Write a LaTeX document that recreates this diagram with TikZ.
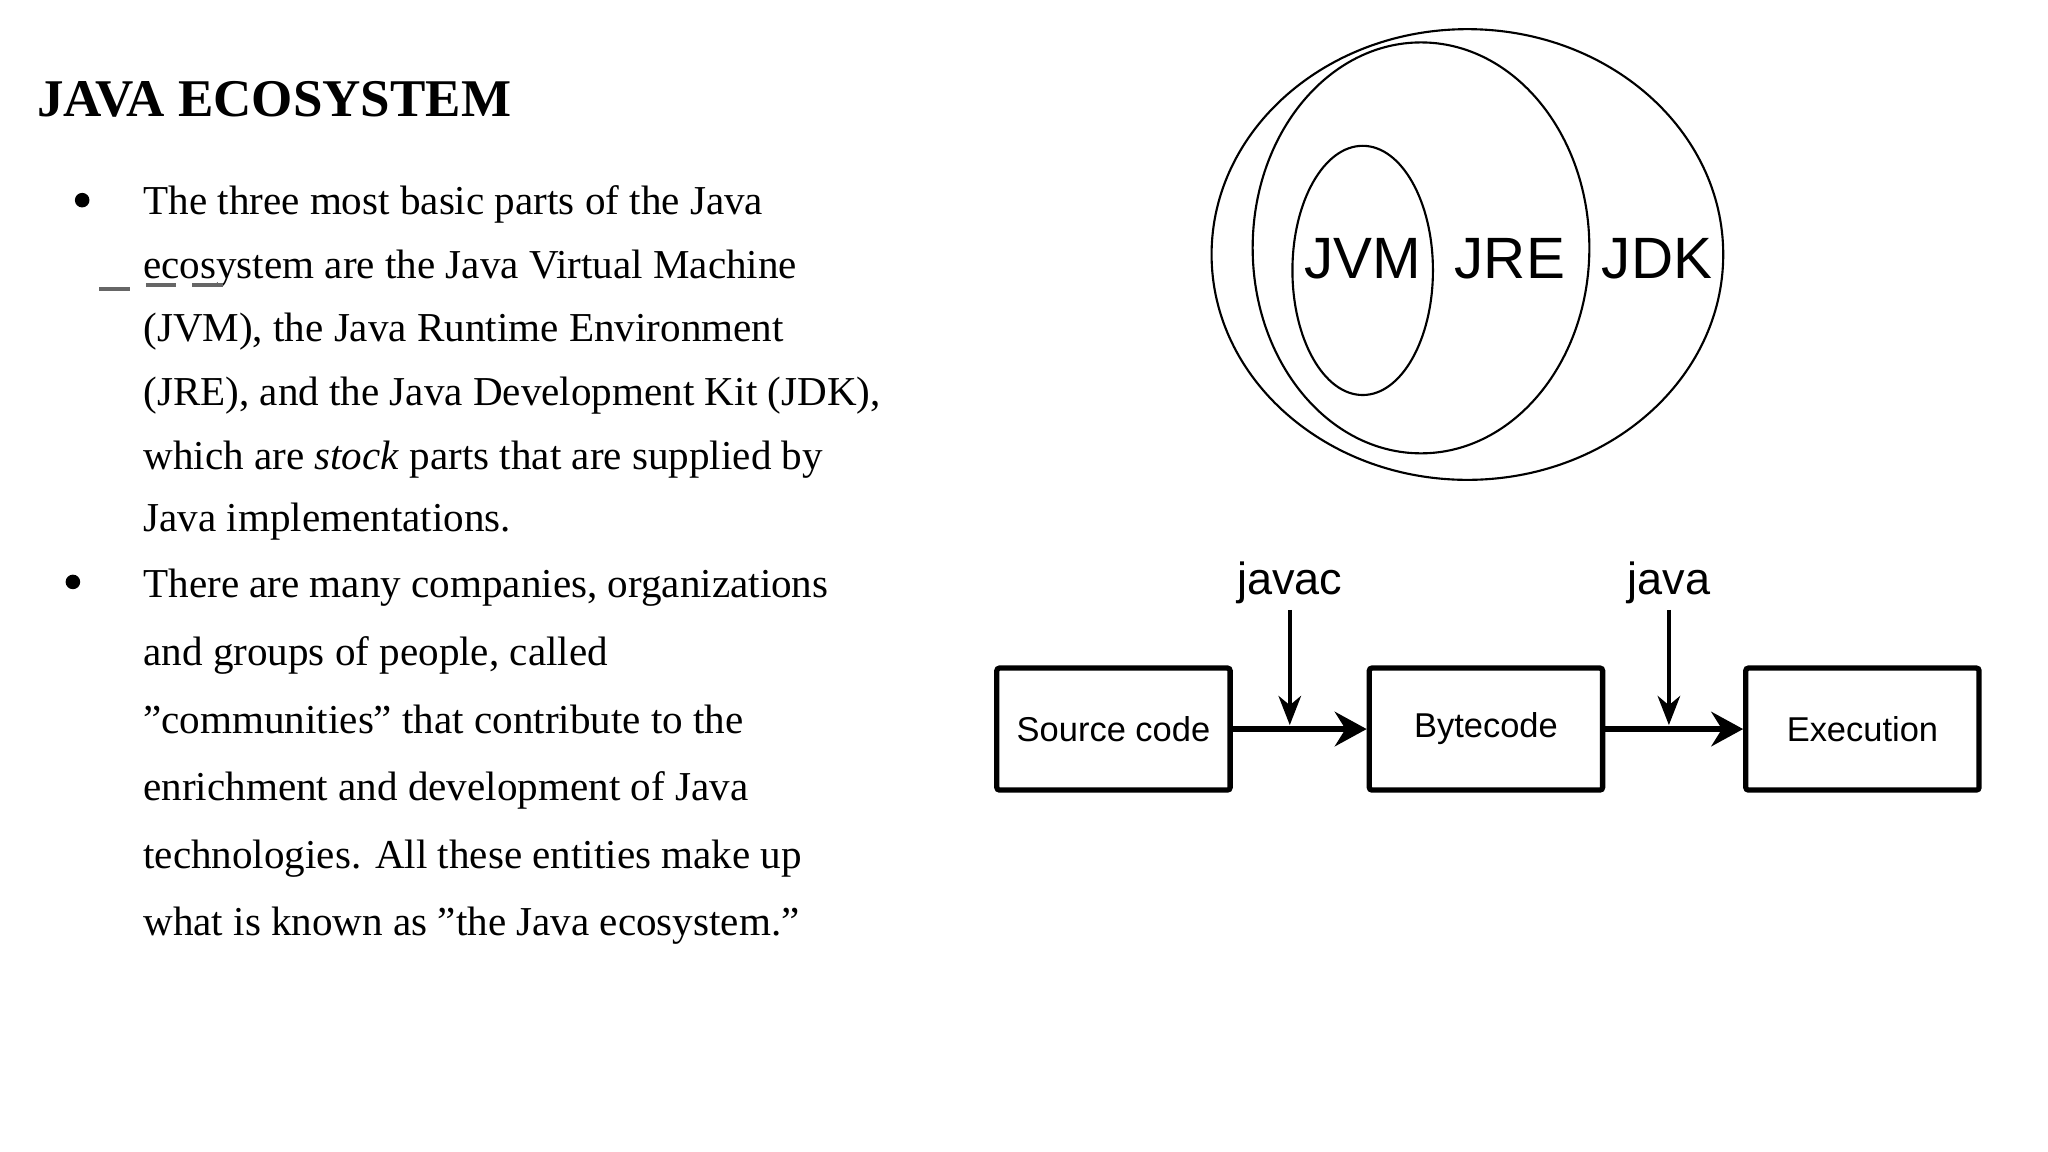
\documentclass[tikz,border=0pt]{standalone}
\usepackage{fontspec}
\setmainfont{Liberation Serif}
\newfontfamily\diagfont{Liberation Sans}
\usetikzlibrary{arrows.meta}
\begin{document}
\begin{tikzpicture}[x=1pt,y=-1pt,
  body/.style={anchor=base west,inner sep=0pt,font=\fontsize{31}{31}\selectfont},
  bul/.style={circle,fill=black,inner sep=0pt,minimum size=11pt},
  ell/.style={draw,line width=1.6pt},
  elabel/.style={font=\diagfont\fontsize{44}{44}\selectfont},
  procbox/.style={draw,line width=4pt,rounded corners=2pt,minimum width=176pt,minimum height=92pt,font=\diagfont\fontsize{26}{26}\selectfont},
  flow/.style={line width=4.5pt,-{Stealth[length=24pt,width=26pt,inset=8pt]}},
  cmd/.style={line width=3pt,-{Stealth[length=22pt,width=17pt,inset=7pt]}},
  cmdlabel/.style={font=\diagfont\fontsize{34}{34}\selectfont}]
\useasboundingbox (0,0) rectangle (1545,869);
\node[anchor=base west,inner sep=0pt,font=\fontsize{40}{40}\selectfont\bfseries] (title) at (28,88) {JAVA ECOSYSTEM};
\node[bul] (b1) at (62,151) {};
\node[body] (l1) at (108,162) {The three most basic parts of the Java};
\node[body] (l2) at (108,210) {ecosystem are the Java Virtual Machine};
\node[body] (l3) at (108,258) {(JVM), the Java Runtime Environment};
\node[body] (l4) at (108,306) {(JRE), and the Java Development Kit (JDK),};
\node[body] (l5) at (108,354) {which are \textit{stock} parts that are supplied by};
\node[body] (l6) at (108,401) {Java implementations.};
\draw[gray!80!black,line width=2.5pt] (75,218) -- (98,218) (110,215) -- (133,215) (145,215) -- (168,215);
\node[bul] (b2) at (55,439) {};
\node[body] (m1) at (108,451) {There are many companies, organizations};
\node[body] (m2) at (108,502) {and groups of people, called};
\node[body] (m3) at (108,553) {"communities" that contribute to the};
\node[body] (m4) at (108,604) {enrichment and development of Java};
\node[body] (m5) at (108,655) {technologies. All these entities make up};
\node[body] (m6) at (108,706) {what is known as "the Java ecosystem."};
% ellipses
\draw[ell] (1107,192) ellipse [x radius=193, y radius=170];
\draw[ell] (1072,187) ellipse [x radius=127, y radius=155];
\draw[ell] (1028,204) ellipse [x radius=53, y radius=94];
\node[elabel] (jvm) at (1028,195) {JVM};
\node[elabel] (jre) at (1139,195) {JRE};
\node[elabel] (jdk) at (1250,195) {JDK};
% flow
\node[procbox] (src) at (840,550) {Source code};
\node[procbox] (byte) at (1121,550) {Bytecode};
\node[procbox] (exec) at (1405,550) {Execution};
\draw[flow] (src.east) -- (byte.west);
\draw[flow] (byte.east) -- (exec.west);
\node[cmdlabel] (javac) at (973,440) {javac};
\node[cmdlabel] (java) at (1259,440) {java};
\coordinate (c1) at (973,547);
\coordinate (c2) at (1259,547);
\draw[cmd] (973,460) -- (c1);
\draw[cmd] (1259,460) -- (c2);
\end{tikzpicture}
\end{document}
